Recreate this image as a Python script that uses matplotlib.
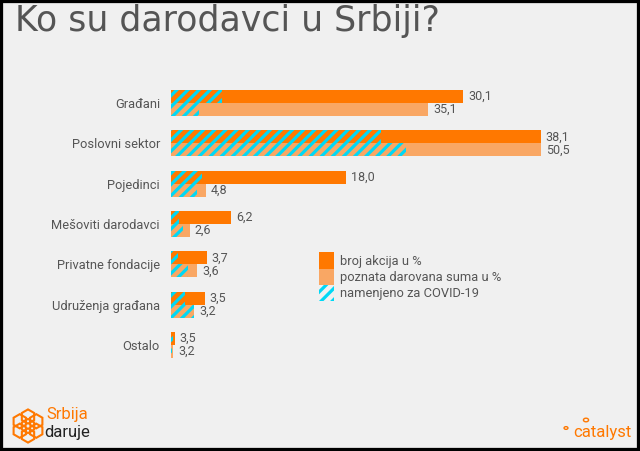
import matplotlib
matplotlib.use('Agg')
import matplotlib.pyplot as plt
import matplotlib.patches as mpatches
from matplotlib.patches import RegularPolygon, Circle, Rectangle

# podaci
kategorije = ['Građani', 'Poslovni sektor', 'Pojedinci', 'Mešoviti darodavci',
              'Privatne fondacije', 'Udruženja građana', 'Ostalo']
broj_akcija = [30.1, 38.1, 18.0, 6.2, 3.7, 3.5, 0.4]          # duzine tamnih traka
darovana_suma = [35.1, 50.5, 4.8, 2.6, 3.6, 3.2, 0.3]         # duzine svetlih traka
covid_broj = [5.3, 21.6, 3.2, 0.8, 0.7, 1.4, 0.2]
covid_suma = [3.8, 32.1, 3.5, 1.6, 2.3, 3.2, 0.1]
oznake_broj = ['30,1', '38,1', '18,0', '6,2', '3,7', '3,5', '3,5']
oznake_suma = ['35,1', '50,5', '4,8', '2,6', '3,6', '3,2', '3,2']
legenda = ['broj akcija u %', 'poznata darovana suma u %', 'namenjeno za COVID-19']

BG = '#f0f0f0'
ORANGE = '#ff7800'
LIGHT = '#f9a764'
CYAN = '#00d8f5'
GRAY = '#555555'
HATCH = '///'

plt.rcParams['font.family'] = ['Roboto', 'DejaVu Sans']
plt.rcParams['hatch.linewidth'] = 2.3

fig = plt.figure(figsize=(6.4, 4.51), dpi=100, facecolor=BG)
W, H = 640, 451

top_px, bot_px = 78.8, 369.2
ax = fig.add_axes([171 / W, 1 - bot_px / H, 370 / W, (bot_px - top_px) / H])
ax.set_facecolor('none')
ax2 = ax.twiny()

y = list(range(len(kategorije)))
h = 0.32
y_dark = [v - h / 2 for v in y]
y_light = [v + h / 2 for v in y]

ax.barh(y_dark, broj_akcija, height=h, color=ORANGE, linewidth=0)
ax.barh(y_dark, covid_broj, height=h, color=ORANGE, edgecolor=CYAN, hatch=HATCH, linewidth=0)
ax2.barh(y_light, darovana_suma, height=h, color=LIGHT, linewidth=0)
ax2.barh(y_light, covid_suma, height=h, color=LIGHT, edgecolor=CYAN, hatch=HATCH, linewidth=0)

ax.set_xlim(0, max(broj_akcija))
ax2.set_xlim(0, max(darovana_suma))
ax.set_ylim(6.6, -0.6)

for i in y:
    ax.text(broj_akcija[i] + 0.5, y_dark[i], oznake_broj[i], va='center', ha='left',
            fontsize=9, color=GRAY, clip_on=False)
    ax2.text(darovana_suma[i] + 0.65, y_light[i], oznake_suma[i], va='center', ha='left',
             fontsize=9, color=GRAY, clip_on=False)

ax.set_yticks(y)
ax.set_yticklabels(kategorije, fontsize=9.3, color=GRAY)
ax.tick_params(axis='y', length=0, pad=8)
ax.tick_params(axis='x', bottom=False, labelbottom=False)
ax2.tick_params(axis='x', top=False, labeltop=False)
for a in (ax, ax2):
    for s in a.spines.values():
        s.set_visible(False)

# legenda
handles = [mpatches.Patch(facecolor=ORANGE, linewidth=0),
           mpatches.Patch(facecolor=LIGHT, linewidth=0),
           mpatches.Patch(facecolor=BG, edgecolor=CYAN, hatch=HATCH, linewidth=0)]
fig.legend(handles, legenda, loc='upper left', bbox_to_anchor=(313 / W, 1 - 246 / H),
           frameon=False, fontsize=9.3, labelcolor=GRAY, handlelength=1.1, handleheight=1.55,
           handletextpad=0.5, labelspacing=0.0, borderpad=0)

# naslov
fig.text(15 / W, 1 - 21 / H, 'Ko su darodavci u Srbiji?', fontsize=25, color='#555555',
         va='center', ha='left', family=['DejaVu Sans'])

# logo Srbija daruje
lax = fig.add_axes([10 / W, 1 - 446 / H, 36 / W, 40 / H])
lax.set_xlim(-1.9, 1.9)
lax.set_ylim(-2.1, 2.1)
lax.set_aspect('equal')
lax.axis('off')
for cx, cy in [(0, 1.0), (0.87, 0.5), (0.87, -0.5), (0, -1.0), (-0.87, -0.5), (-0.87, 0.5), (0, 0)]:
    lax.add_patch(RegularPolygon((cx, cy), 6, radius=0.75, fill=False, edgecolor=ORANGE, lw=1.5))
fig.text(46 / W, 1 - 415 / H, 'Srbija', fontsize=12, color=ORANGE, va='center', ha='left')
fig.text(44 / W, 1 - 433 / H, 'daruje', fontsize=12, color='#222222', va='center', ha='left')

# logo catalyst
fig.text(632 / W, 1 - 433 / H, 'catalyst', fontsize=12, color=ORANGE, va='center', ha='right')
fig.patches.append(Circle((566 / W, 1 - 428 / H), 0.003, transform=fig.transFigure,
                          fill=False, edgecolor=ORANGE, lw=1))
fig.patches.append(Circle((586 / W, 1 - 420 / H), 0.004, transform=fig.transFigure,
                          fill=False, edgecolor=ORANGE, lw=1))

# okvir
fig.patches.append(Rectangle((0, 0), 1, 1, transform=fig.transFigure, fill=False,
                             edgecolor='black', lw=4.5))

fig.savefig('out.png', dpi=100, facecolor=BG)
